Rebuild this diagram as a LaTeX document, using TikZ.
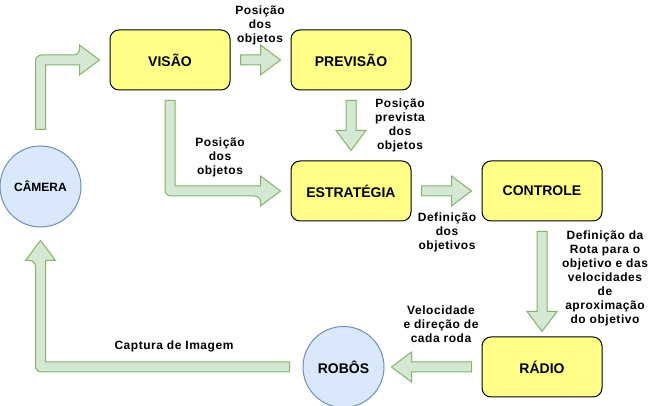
\documentclass[tikz,border=0pt]{standalone}
\usepackage{fontspec}
\setmainfont{Liberation Sans}
\newfontfamily\lblfont[LetterSpace=4.5]{Liberation Sans}
\usetikzlibrary{calc, positioning}
\definecolor{boxyellow}{HTML}{FFFF88}
\definecolor{circfill}{HTML}{DAE8FC}
\definecolor{circline}{HTML}{6C8EBF}
\definecolor{arrfill}{HTML}{D5E8D4}
\definecolor{arrline}{HTML}{82B366}

\begin{document}
\begin{tikzpicture}[x=1pt,y=1pt]

\tikzset{box/.style = {draw, line width=1pt, rounded corners=9pt, fill=boxyellow, minimum width=120, minimum height=60, font=\fontsize{14}{16}\selectfont\bfseries}}
\tikzset{circ/.style = {circle, draw=circline, line width=1pt, fill=circfill, minimum size=81, inner sep=0pt, font=\fontsize{12}{14}\selectfont\bfseries}}
\tikzset{blk/.style = {draw=arrline, line width=1pt, fill=arrfill, line join=miter}}
\tikzset{lbl/.style = {align=center, inner sep=0pt, font=\lblfont\fontsize{12}{14}\selectfont\bfseries}}

\useasboundingbox (0,0) rectangle (651,406);
% blocks
\node[box] (visao) at (170,346) {VISÃO};
\node[box, right=60 of visao] (previsao) {PREVISÃO};
\node[box, below=70 of previsao] (estrategia) {ESTRATÉGIA};
\node[box, right=70 of estrategia] (controle) {CONTROLE};
\node[box, below=115 of controle] (radio) {RÁDIO};
\node[circ] (camera) at (40.5,219.5) {CÂMERA};
\node[circ, left=97 of radio, font=\fontsize{14}{16}\selectfont\bfseries] (robos) {ROBÔS};
% arrow ends
\coordinate (c1) at ($(camera.north)+(0,16)$);
\coordinate (c2) at ($(visao.west)+(-10,0)$);
\coordinate (v1) at ($(visao.east)+(10,0)$);
\coordinate (p1) at ($(previsao.west)+(-10,0)$);
\coordinate (v2) at ($(visao.south)+(0,-10)$);
\coordinate (e1) at ($(estrategia.west)+(-10,0)$);
\coordinate (p2) at ($(previsao.south)+(0,-10)$);
\coordinate (e2) at ($(estrategia.north)+(0,10)$);
\coordinate (e3) at ($(estrategia.east)+(10,0)$);
\coordinate (k1) at ($(controle.west)+(-10,0)$);
\coordinate (k2) at ($(controle.south)+(0,-10)$);
\coordinate (r1) at ($(radio.north)+(0,5)$);
\coordinate (r2) at ($(radio.west)+(-10,0)$);
\coordinate (b1) at ($(robos.east)+(7,0)$);
\coordinate (b2) at ($(robos.west)+(-13,0)$);
\coordinate (c3) at ($(camera.south)+(0,-13)$);
% arrows
\draw[blk] ($(c1)+(-5,0)$) [rounded corners=6] |- ($(c2)+(-20,5)$) [sharp corners] -- ++(0,10) -- (c2) -- ++(-20,-15) -- ++(0,10) -| ($(c1)+(5,0)$) -- cycle;
\draw[blk] ($(v1)+(0,5)$) -- ($(p1)+(-20,5)$) -- ++(0,10) -- (p1) -- ++(-20,-15) -- ++(0,10) -- ($(v1)+(0,-5)$) -- cycle;
\draw[blk] ($(v2)+(-5,0)$) [rounded corners=6] |- ($(e1)+(-20,-5)$) [sharp corners] -- ++(0,-10) -- (e1) -- ++(-20,15) -- ++(0,-10) -| ($(v2)+(5,0)$) -- cycle;
\draw[blk] ($(p2)+(-5,0)$) -- ($(e2)+(-5,20)$) -- ++(-10,0) -- (e2) -- ++(15,20) -- ++(-10,0) -- ($(p2)+(5,0)$) -- cycle;
\draw[blk] ($(e3)+(0,5)$) -- ($(k1)+(-20,5)$) -- ++(0,10) -- (k1) -- ++(-20,-15) -- ++(0,10) -- ($(e3)+(0,-5)$) -- cycle;
\draw[blk] ($(k2)+(-5,0)$) -- ($(r1)+(-5,20)$) -- ++(-10,0) -- (r1) -- ++(15,20) -- ++(-10,0) -- ($(k2)+(5,0)$) -- cycle;
\draw[blk] ($(r2)+(0,5)$) -- ($(b1)+(20,5)$) -- ++(0,10) -- (b1) -- ++(20,-15) -- ++(0,10) -- ($(r2)+(0,-5)$) -- cycle;
\draw[blk] ($(b2)+(0,-5)$) [rounded corners=6] -| ($(c3)+(-5,-20)$) [sharp corners] -- ++(-10,0) -- (c3) -- ++(15,-20) -- ++(-10,0) |- ($(b2)+(0,5)$) -- cycle;
% labels
\node[lbl] (lpos1) at (260,381) {Posição\\dos\\objetos};
\node[lbl] (lpos2) at (220,249) {Posição\\dos\\objetos};
\node[lbl] (lprev) at (400,281) {Posição\\prevista\\dos\\objetos};
\node[lbl] (ldef) at (447,174) {Definição\\dos\\objetivos};
\node[lbl] (lrota) at (605,128) {Definição da\\Rota para o\\objetivo e das\\velocidades\\de\\aproximação\\do objetivo};
\node[lbl] (lvel) at (441,82) {Velocidade\\e direção de\\cada roda};
\node[lbl] (lcap) at (174,60) {Captura de Imagem};

\end{tikzpicture}
\end{document}
